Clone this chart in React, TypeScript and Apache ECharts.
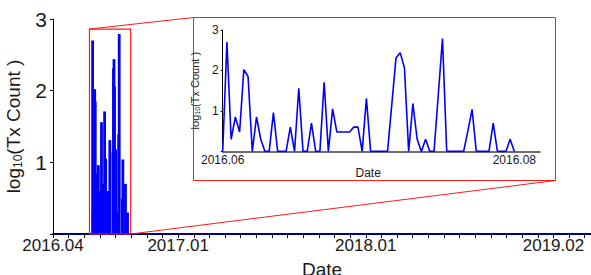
import React, { useEffect, useRef } from "react";
import * as echarts from "echarts";

// daily log10(Tx Count), starting 2016.06 (day index 0..69)
const txLog = [
  0, 2.7, 0.3, 0.85, 0.48, 2.02, 1.85, 0, 0.85, 0.3,
  0, 0, 0.96, 0, 0, 0, 0.6, 0, 1.56, 0,
  0, 0.7, 0, 0, 1.71, 0, 1.05, 0.48, 0.48, 0.48,
  0.48, 0.6, 0.6, 0, 1.31, 0, 0, 0, 0, 0,
  1.15, 2.31, 2.44, 2.06, 0, 1.18, 0.3, 0, 0.3, 0,
  0, 1.39, 2.79, 0, 0, 0, 0, 0, 0.5, 1.04,
  0, 0, 0, 0, 0.7, 0, 0, 0, 0.3, 0,
];

// main axis (days since 2016.04, one tick every ~month)
const DATA_START_DAY = 75;
const MONTH_DAYS = 30;
const MAIN_X_MAX = 1032;
const mainTickLabels: Record<number, string> = {
  0: "2016.04",
  8: "2017.01",
  20: "2018.01",
  32: "2019.02",
};
// inset axis (days since 2016.06)
const INSET_X_MAX = 75;
const INSET_LAST_DAY = 69;
const insetTickLabels: Record<number, string> = {
  0: "2016.06",
  69: "2016.08",
};
const yTickLabels = ["", "1", "2", "3"];
// zoom window in main data coords
const ZOOM_X0 = 70;
const ZOOM_X1 = 149;
const ZOOM_TOP = 2.86;

const FONT = "'Liberation Sans', Arial, sans-serif";
const RED = "#ff1a1a";
const BLUE = "#0000ff";

export default function App() {
  const ref = useRef<HTMLDivElement>(null);
  useEffect(() => {
    document.body.style.margin = "0";
    const chart = echarts.init(ref.current!, undefined, { renderer: "svg" });
    const mainData = txLog.map((v, i) => [DATA_START_DAY + i, v]);
    const insetData = txLog.map((v, i) => [i, v]);
    const option: any = {
      animation: false,
      backgroundColor: "#fff",
      textStyle: { fontFamily: FONT },
      grid: [
        { left: 53, top: 19, width: 538, height: 215, outerBoundsMode: "none", containLabel: false },
        { left: 222.7, top: 30, width: 317, height: 121.4, outerBoundsMode: "none", containLabel: false },
      ],
      xAxis: [
        {
          type: "value",
          gridIndex: 0,
          min: 0,
          max: MAIN_X_MAX,
          interval: MONTH_DAYS,
          axisLine: { show: true, lineStyle: { color: "#00008b", width: 2 } },
          axisTick: { show: true, length: 4, lineStyle: { color: "#000", width: 1 } },
          splitLine: { show: false },
          axisLabel: {
            fontSize: 17,
            color: "#1a1a1a",
            fontFamily: FONT,
            margin: 3,
            showMaxLabel: false,
            formatter: (v: number) => mainTickLabels[Math.round(v / MONTH_DAYS)] ?? "",
          },
          name: "Date",
          nameLocation: "middle",
          nameGap: 26,
          nameTextStyle: { fontSize: 19, color: "#1a1a1a", fontFamily: FONT },
        },
        {
          type: "value",
          gridIndex: 1,
          min: 0,
          max: INSET_X_MAX,
          interval: INSET_LAST_DAY,
          axisLine: { show: true, lineStyle: { color: "#6e6e6e", width: 2 } },
          axisTick: { show: false },
          splitLine: { show: false },
          axisLabel: {
            fontSize: 12,
            color: "#1a1a1a",
            fontFamily: FONT,
            margin: 3,
            formatter: (v: number) => insetTickLabels[Math.round(v)] ?? "",
          },
          name: "Date",
          nameLocation: "middle",
          nameGap: 16,
          nameTextStyle: { fontSize: 12, color: "#1a1a1a", fontFamily: FONT, padding: [0, 26, 0, 0] },
        },
      ],
      yAxis: [
        {
          type: "value",
          gridIndex: 0,
          min: 0,
          max: 3,
          interval: 1,
          axisLine: { show: true, lineStyle: { color: "#000", width: 1 } },
          axisTick: { show: true, length: 3, lineStyle: { color: "#000" } },
          splitLine: { show: false },
          axisLabel: {
            fontSize: 21,
            color: "#1a1a1a",
            fontFamily: FONT,
            margin: 6,
            formatter: (v: number) => yTickLabels[Math.round(v)] ?? "",
          },
          name: "{a|log}{b|10}{a|(Tx Count )}",
          nameLocation: "middle",
          nameGap: 20,
          nameTextStyle: {
            color: "#1a1a1a",
            fontFamily: FONT,
            rich: {
              a: { fontSize: 19, fontFamily: FONT, color: "#1a1a1a", lineHeight: 22 },
              b: { fontSize: 12, fontFamily: FONT, color: "#1a1a1a", lineHeight: 10, verticalAlign: "bottom" },
            },
          },
        },
        {
          type: "value",
          gridIndex: 1,
          min: 0,
          max: 3,
          interval: 1,
          axisLine: { show: true, lineStyle: { color: "#000", width: 1 } },
          axisTick: { show: true, length: 2, lineStyle: { color: "#000" } },
          splitLine: { show: false },
          axisLabel: {
            fontSize: 12,
            color: "#1a1a1a",
            fontFamily: FONT,
            margin: 4,
            formatter: (v: number) => yTickLabels[Math.round(v)] ?? "",
          },
          name: "{a|log}{b|10}{a|(Tx Count )}",
          nameLocation: "middle",
          nameGap: 14,
          nameTextStyle: {
            color: "#1a1a1a",
            fontFamily: FONT,
            rich: {
              a: { fontSize: 11, fontFamily: FONT, color: "#1a1a1a", lineHeight: 12 },
              b: { fontSize: 7, fontFamily: FONT, color: "#1a1a1a", lineHeight: 6, verticalAlign: "bottom" },
            },
          },
        },
      ],
      series: [
        {
          type: "bar",
          xAxisIndex: 0,
          yAxisIndex: 0,
          data: mainData,
          barWidth: 2.8,
          itemStyle: { color: BLUE },
          silent: true,
        },
        {
          type: "line",
          xAxisIndex: 1,
          yAxisIndex: 1,
          data: insetData,
          showSymbol: false,
          lineStyle: { color: BLUE, width: 1.6 },
          silent: true,
        },
      ],
    };
    chart.setOption(option);
    const tl = chart.convertToPixel({ gridIndex: 0 }, [ZOOM_X0, ZOOM_TOP]) as number[];
    const br = chart.convertToPixel({ gridIndex: 0 }, [ZOOM_X1, 0]) as number[];
    const inset = { x: 193.5, y: 17.5, w: 362, h: 163 };
    chart.setOption({
      graphic: [
        {
          type: "rect",
          z: 100,
          shape: { x: tl[0], y: tl[1], width: br[0] - tl[0], height: br[1] - tl[1] },
          style: { fill: "transparent", stroke: RED, lineWidth: 1.2 },
          silent: true,
        },
        {
          type: "rect",
          z: 100,
          shape: { x: inset.x, y: inset.y, width: inset.w, height: inset.h },
          style: { fill: "transparent", stroke: RED, lineWidth: 1 },
          silent: true,
        },
        {
          type: "line",
          z: 100,
          shape: { x1: tl[0], y1: tl[1], x2: inset.x, y2: inset.y },
          style: { stroke: RED, lineWidth: 1 },
          silent: true,
        },
        {
          type: "line",
          z: 100,
          shape: { x1: br[0], y1: br[1], x2: inset.x + inset.w, y2: inset.y + inset.h },
          style: { stroke: RED, lineWidth: 1 },
          silent: true,
        },
      ],
    });
    return () => chart.dispose();
  }, []);
  return <div ref={ref} style={{ width: 591, height: 275 }} />;
}
